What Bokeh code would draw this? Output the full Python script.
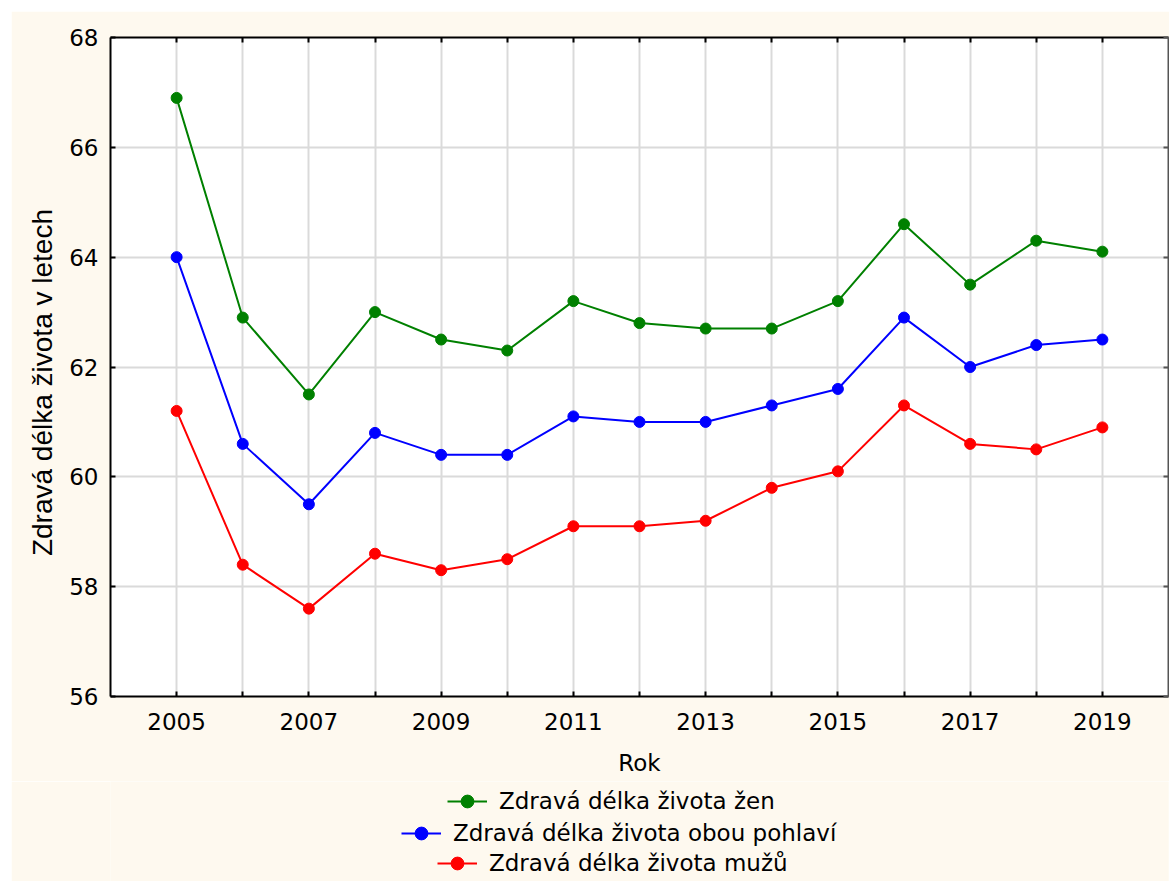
from bokeh.plotting import figure
from bokeh.layouts import column
from bokeh.models import (FixedTicker, LinearAxis, Legend, LegendItem, Range1d)
from bokeh.embed import file_html
from bokeh.resources import INLINE

years = list(range(2005, 2020))
zeny = [66.9, 62.9, 61.5, 63.0, 62.5, 62.3, 63.2, 62.8, 62.7, 62.7, 63.2, 64.6, 63.5, 64.3, 64.1]
obe = [64.0, 60.6, 59.5, 60.8, 60.4, 60.4, 61.1, 61.0, 61.0, 61.3, 61.6, 62.9, 62.0, 62.4, 62.5]
muzi = [61.2, 58.4, 57.6, 58.6, 58.3, 58.5, 59.1, 59.1, 59.2, 59.8, 60.1, 61.3, 60.6, 60.5, 60.9]
y_ticks = [56, 58, 60, 62, 64, 66, 68]
x_labeled = [y for y in years if y % 2 == 1]
x_unlabeled = [y for y in years if y % 2 == 0]
series_names = ["Zdravá délka života žen", "Zdravá délka života obou pohlaví", "Zdravá délka života mužů"]
colors = ["#008000", "#0000FF", "#FF0000"]
series = [zeny, obe, muzi]
x_title = "Rok"
y_title = "Zdravá délka života v letech"

FONT = "DejaVu Sans"
YFONT = "Liberation Sans"
CREAM = "#FEF9EF"

p = figure(width=1158, height=770, output_backend="svg", toolbar_location=None,
           x_range=Range1d(2004, 2020), y_range=Range1d(56, 68),
           min_border_left=99, min_border_top=26, min_border_right=1, min_border_bottom=85,
           background_fill_color="white", border_fill_color=CREAM,
           outline_line_color=None, margin=(11, 0, 0, 11))

xt = FixedTicker(ticks=x_labeled, minor_ticks=x_unlabeled)
yt = FixedTicker(ticks=y_ticks, minor_ticks=[])
p.xaxis.ticker = xt
p.yaxis.ticker = yt

for ax in (p.xaxis[0], p.yaxis[0]):
    ax.major_tick_in = 5
    ax.major_tick_out = 0
    ax.minor_tick_in = 5
    ax.minor_tick_out = 0
    ax.minor_tick_line_color = "black"
    ax.minor_tick_line_width = 2
    ax.axis_line_color = "black"
    ax.axis_line_width = 2
    ax.major_tick_line_color = "black"
    ax.major_tick_line_width = 2
    ax.major_label_text_font = FONT
    ax.major_label_text_font_size = "23px"
    ax.major_label_text_color = "black"
    ax.axis_label_text_font_style = "normal"
    ax.axis_label_text_color = "black"

p.xaxis.axis_label = x_title
p.xaxis.axis_label_text_font = FONT
p.xaxis.axis_label_text_font_size = "23px"
p.xaxis.major_label_standoff = 16
p.xaxis.axis_label_standoff = 17
# trailing no-break spaces nudge the rotated title slightly downwards, as in the original
p.yaxis.axis_label = y_title + "\u00a0" * 4
p.yaxis.axis_label_text_font = YFONT
p.yaxis.axis_label_text_font_size = "28px"
p.yaxis.major_label_standoff = 12
p.yaxis.axis_label_standoff = 8

top = LinearAxis(ticker=xt, major_label_text_color=None, major_label_text_font_size="1px",
                 major_tick_in=5, major_tick_out=0, minor_tick_in=5, minor_tick_out=0,
                 minor_tick_line_width=2, axis_line_width=2, major_tick_line_width=2,
                 major_label_standoff=0)
right = LinearAxis(ticker=yt, major_label_text_color=None, major_label_text_font_size="1px",
                   major_tick_in=5, major_tick_out=0, minor_tick_line_color=None,
                   axis_line_width=2, major_tick_line_width=2, major_tick_line_color="#555555",
                   axis_line_color="#555555", major_label_standoff=0)
p.add_layout(top, "above")
p.add_layout(right, "right")

p.xgrid.grid_line_color = "#dadada"
p.xgrid.minor_grid_line_color = "#dadada"
p.ygrid.grid_line_color = "#dadada"
p.xgrid.grid_line_width = 2
p.xgrid.minor_grid_line_width = 2
p.ygrid.grid_line_width = 2

for vals, c in zip(series, colors):
    p.line(years, vals, line_color=c, line_width=2)
    p.scatter(years, vals, size=11, fill_color=c, line_color=c)

# legend strip below the chart (its renderers lie outside its view; only the legend shows)
lg = figure(width=1158, height=111, output_backend="svg", toolbar_location=None,
            x_range=Range1d(0, 1), y_range=Range1d(0, 1),
            min_border_left=0, min_border_right=0, min_border_top=0, min_border_bottom=0,
            background_fill_color=CREAM, border_fill_color=CREAM,
            outline_line_color=None, margin=(0, 0, 0, 11))
lg.axis.visible = False
lg.grid.visible = False

leg_x = [337, 291, 327]
leg_y = [75, 43, 13]
for vals, name, c, lx, ly in zip(series, series_names, colors, leg_x, leg_y):
    r1 = lg.line(years, vals, line_color=c, line_width=2)
    r2 = lg.scatter(years, vals, size=11, fill_color=c, line_color=c)
    leg = Legend(items=[LegendItem(label=name, renderers=[r1, r2])], location=(lx, ly),
                 background_fill_alpha=0, border_line_color=None, padding=0, margin=0,
                 glyph_width=40, glyph_height=32, label_height=32, label_standoff=12,
                 label_text_font=FONT, label_text_font_size="23px", label_text_color="black")
    lg.add_layout(leg, "center")

layout = column(p, lg, spacing=0)
open("out.html", "w").write(file_html(layout, INLINE))
